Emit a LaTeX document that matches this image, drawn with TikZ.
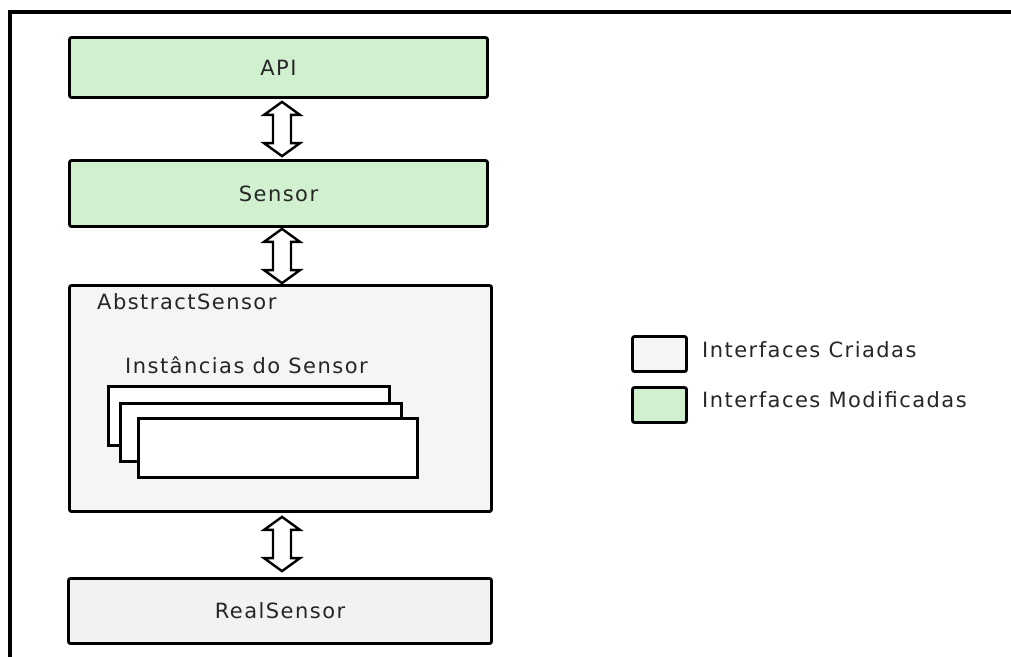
\documentclass[tikz,border=0pt]{standalone}
\usepackage{fontspec}
\setmainfont{DejaVu Sans}[LetterSpace=7]
\usetikzlibrary{calc}
\definecolor{modgreen}{HTML}{D0F0D0}
\definecolor{crgray}{HTML}{F5F5F5}
\definecolor{realgray}{HTML}{F2F2F2}
\definecolor{txt}{HTML}{262626}
\tikzset{
  box/.style={draw=black, line width=2.8pt, rounded corners=2pt, inner sep=0pt, text=txt, font=\fontsize{21}{23}\selectfont},
  inst/.style={draw=black, line width=2.6pt, fill=white, inner sep=0pt},
  lbl/.style={anchor=west, inner sep=0pt, text=txt, font=\fontsize{21}{23}\selectfont},
  arr/.style={draw=black, fill=white, line width=2.4pt, line join=miter},
  frame/.style={line width=3.5pt, line cap=rect}
}
\newcommand\dblarr[2]{%
  \draw[arr] let \p1=(#1), \p2=(#2) in
    (\x1,\y1) -- (\x1+18pt,\y1-13pt) -- (\x1+9pt,\y1-13pt) -- (\x1+9pt,\y2+13pt)
    -- (\x1+18pt,\y2+13pt) -- (\x1,\y2) -- (\x1-18pt,\y2+13pt) -- (\x1-9pt,\y2+13pt)
    -- (\x1-9pt,\y1-13pt) -- (\x1-18pt,\y1-13pt) -- cycle;}
\begin{document}
\begin{tikzpicture}[x=1pt,y=-1pt]
\useasboundingbox (0,0) rectangle (1011,656);
% frame
\coordinate (fa) at (10,656);
\coordinate (fb) at (10,12);
\coordinate (fc) at (1013,12);
\draw[frame] (fa) -- (fb) -- (fc);
% boxes
\node[box, fill=modgreen, minimum width=418pt, minimum height=60pt] (api) at (278.5,67.5) {API};
\node[box, fill=modgreen, minimum width=418pt, minimum height=66pt] (sensor) at (278.5,193.5) {Sensor};
\node[box, fill=crgray, minimum width=422pt, minimum height=226pt] (abs) at (280.5,398.5) {};
\node[box, fill=realgray, minimum width=423pt, minimum height=65pt] (real) at (280,611) {RealSensor};
\node[lbl] (abslbl) at (97,302) {AbstractSensor};
\node[lbl] (instlbl) at (125,365) {Instâncias do Sensor};
% instances
\node[inst, minimum width=281pt, minimum height=59pt] (i1) at (249,416) {};
\node[inst, minimum width=281pt, minimum height=58pt] (i2) at (261,432.5) {};
\node[inst, minimum width=279pt, minimum height=59pt] (i3) at (278,448) {};
% arrows
\coordinate (a1t) at ($(api.south)+(3.5,3)$);
\coordinate (a1b) at ($(sensor.north)+(3.5,-3)$);
\dblarr{a1t}{a1b}
\coordinate (a2t) at ($(sensor.south)+(3.5,1)$);
\coordinate (a2b) at ($(abs.north)+(1.5,-1)$);
\dblarr{a2t}{a2b}
\coordinate (a3t) at ($(abs.south)+(1.5,4)$);
\coordinate (a3b) at ($(real.north)+(2,-6)$);
\dblarr{a3t}{a3b}
% legend
\node[box, fill=crgray, minimum width=54pt, minimum height=35pt] (leg1) at (659.5,354) {};
\node[box, fill=modgreen, minimum width=54pt, minimum height=35pt] (leg2) at (659.5,405) {};
\node[lbl] (leg1t) at (702,350) {Interfaces Criadas};
\node[lbl] (leg2t) at (702,400) {Interfaces Modificadas};
\end{tikzpicture}
\end{document}
